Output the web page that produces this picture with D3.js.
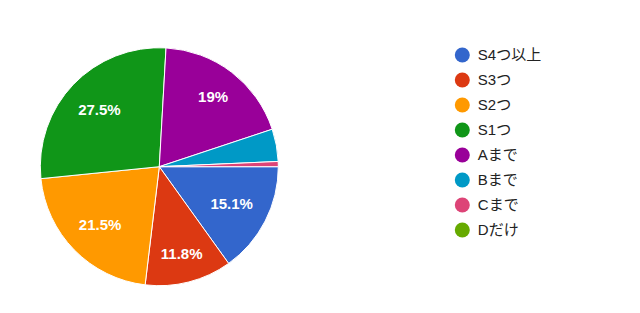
<!DOCTYPE html>
<html>
<head>
<meta charset="utf-8">
<script src="https://cdn.jsdelivr.net/npm/d3@7"></script>
<style>
  body { margin: 0; background: #fff; }
  svg { display: block; }
  .slice-label { font-family: "Liberation Sans", Arial, sans-serif; font-weight: bold; font-size: 15px; fill: #fff; }
  .legend-label { font-family: "Liberation Sans", Arial, "Noto Sans CJK JP", sans-serif; font-size: 15px; fill: #222; }
</style>
</head>
<body>
<div id="chart"></div>
<script>
// answer categories and their share (%)
const categories = ["S4つ以上", "S3つ", "S2つ", "S1つ", "Aまで", "Bまで", "Cまで", "Dだけ"];
const shares = [15.1, 11.8, 21.5, 27.5, 19.0, 4.4, 0.7, 0.0];
const labels = ["15.1%", "11.8%", "21.5%", "27.5%", "19%", "", "", ""];
const colors = ["#3366cc", "#dc3912", "#ff9900", "#109618", "#990099", "#0099c6", "#dd4477", "#66aa00"];

const width = 640, height = 313;
const cx = 159.3, cy = 166.7, radius = 119;

const svg = d3.select("#chart")
    .append("svg")
    .attr("width", width)
    .attr("height", height);

const data = categories.map((c, i) => ({ name: c, value: shares[i], label: labels[i], color: colors[i] }));

// slices start at 3 o'clock and go clockwise
const pie = d3.pie()
    .sort(null)
    .value(d => d.value)
    .startAngle(Math.PI / 2)
    .endAngle(Math.PI / 2 + 2 * Math.PI);

const arc = d3.arc().innerRadius(0).outerRadius(radius);

const g = svg.append("g").attr("transform", `translate(${cx},${cy})`);

const arcs = pie(data);

g.selectAll("path.slice")
    .data(arcs.filter(d => d.value > 0))
    .enter()
    .append("path")
    .attr("class", "slice")
    .attr("d", arc)
    .attr("fill", d => d.data.color)
    .attr("stroke", "#fff")
    .attr("stroke-width", 1);

// labels: push text box out until its far corner sits at a fixed radius
const labelR = radius * 0.87;
const halfH = 7;
g.selectAll("text.slice-label")
    .data(arcs.filter(d => d.data.label))
    .enter()
    .append("text")
    .attr("class", "slice-label")
    .attr("text-anchor", "middle")
    .attr("dy", "0.35em")
    .text(d => d.data.label)
    .each(function (d) {
        const w = this.getComputedTextLength() / 2;
        const a = (d.startAngle + d.endAngle) / 2;
        const ux = Math.sin(a), uy = -Math.cos(a);
        const ox = Math.sign(ux) * w, oy = Math.sign(uy) * halfH;
        // |t*u + o| = labelR
        const b = ux * ox + uy * oy;
        const c = ox * ox + oy * oy - labelR * labelR;
        const t = -b + Math.sqrt(b * b - c);
        d3.select(this).attr("x", t * ux).attr("y", t * uy);
    });

// legend
const legendX = 462.3, legendY = 55, legendStep = 25;
const legend = svg.append("g");
const items = legend.selectAll("g.item")
    .data(data)
    .enter()
    .append("g")
    .attr("class", "item")
    .attr("transform", (d, i) => `translate(${legendX},${legendY + i * legendStep})`);

items.append("circle")
    .attr("r", 7.5)
    .attr("fill", d => d.color);

items.append("text")
    .attr("class", "legend-label")
    .attr("x", 15.5)
    .attr("dy", "0.36em")
    .text(d => d.name);
</script>
</body>
</html>
